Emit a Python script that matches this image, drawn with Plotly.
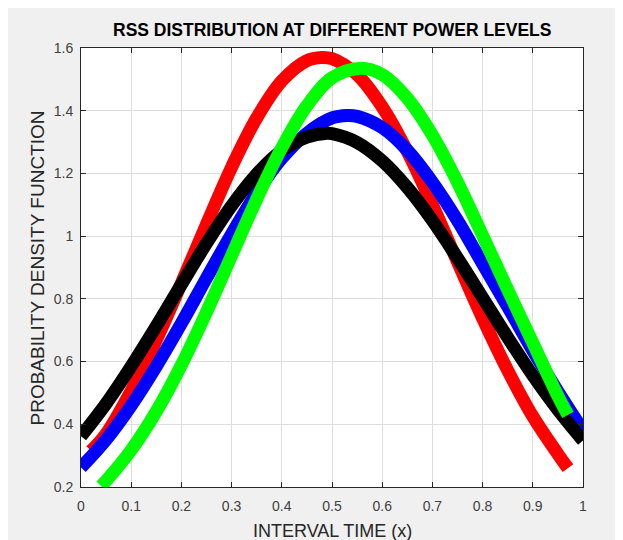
import plotly.graph_objects as go

# ---- data ----
red_x = [0.02, 0.05, 0.10, 0.15, 0.20, 0.25, 0.30, 0.35, 0.40, 0.45, 0.48, 0.50, 0.55, 0.60, 0.65, 0.70, 0.75, 0.80, 0.85, 0.90, 0.95, 0.97]
red_y = [0.315, 0.370, 0.507, 0.669, 0.850, 1.038, 1.220, 1.377, 1.495, 1.560, 1.570, 1.566, 1.515, 1.412, 1.270, 1.100, 0.918, 0.738, 0.572, 0.425, 0.305, 0.260]

green_x = [0.04, 0.05, 0.10, 0.15, 0.20, 0.25, 0.30, 0.35, 0.40, 0.45, 0.50, 0.555, 0.60, 0.65, 0.70, 0.75, 0.80, 0.85, 0.90, 0.95, 0.97]
green_y = [0.203, 0.220, 0.318, 0.441, 0.589, 0.758, 0.938, 1.118, 1.282, 1.416, 1.505, 1.535, 1.515, 1.440, 1.322, 1.172, 1.002, 0.829, 0.660, 0.490, 0.430]

blue_x = [0.00, 0.05, 0.10, 0.15, 0.20, 0.25, 0.30, 0.35, 0.40, 0.45, 0.50, 0.53, 0.55, 0.60, 0.65, 0.70, 0.75, 0.80, 0.85, 0.90, 0.95, 1.00]
blue_y = [0.262, 0.351, 0.460, 0.585, 0.722, 0.866, 1.007, 1.138, 1.248, 1.328, 1.377, 1.385, 1.382, 1.346, 1.274, 1.172, 1.050, 0.912, 0.775, 0.635, 0.505, 0.380]

black_x = [0.00, 0.05, 0.10, 0.15, 0.20, 0.25, 0.30, 0.35, 0.40, 0.45, 0.49, 0.50, 0.55, 0.60, 0.65, 0.70, 0.75, 0.80, 0.85, 0.90, 0.95, 1.00]
black_y = [0.362, 0.466, 0.585, 0.713, 0.846, 0.977, 1.097, 1.198, 1.273, 1.316, 1.328, 1.327, 1.299, 1.240, 1.155, 1.050, 0.930, 0.804, 0.677, 0.556, 0.446, 0.348]

x_ticks = [0, 0.1, 0.2, 0.3, 0.4, 0.5, 0.6, 0.7, 0.8, 0.9, 1]
y_ticks = [0.2, 0.4, 0.6, 0.8, 1.0, 1.2, 1.4, 1.6]

series = [
    (red_x, red_y, "#ff0000"),
    (blue_x, blue_y, "#0000ff"),
    (black_x, black_y, "#000000"),
    (green_x, green_y, "#00ff00"),
]

FONT = "Liberation Sans, Arial, Helvetica, sans-serif"

fig = go.Figure()
for xs, ys, col in series:
    fig.add_trace(go.Scatter(
        x=xs, y=ys, mode="lines",
        line=dict(color=col, width=13, shape="spline", smoothing=1.0),
        showlegend=False, hoverinfo="skip",
    ))

axis_common = dict(
    showgrid=True, gridcolor="#dedede", gridwidth=1,
    showline=True, linecolor="#262626", linewidth=1, mirror="ticks",
    ticks="inside", ticklen=5, tickcolor="#262626",
    tickfont=dict(family=FONT, size=14, color="#404040"),
    zeroline=False,
)

fig.update_xaxes(range=[0, 1], tickvals=x_ticks, ticklabelstandoff=6, **axis_common)
fig.update_yaxes(range=[0.2, 1.6], tickvals=y_ticks, ticklabelstandoff=4, **axis_common)

fig.update_layout(
    width=615, height=532,
    margin=dict(l=73, r=40, t=40, b=53),
    paper_bgcolor="#f0f0f0",
    plot_bgcolor="#ffffff",
    annotations=[
        dict(text="<b>RSS DISTRIBUTION AT DIFFERENT POWER LEVELS</b>", xref="paper", yref="paper",
             x=0.5, y=1.041, xanchor="center", yanchor="middle", showarrow=False,
             font=dict(family=FONT, size=17.5, color="#000000")),
        dict(text="INTERVAL TIME (x)", xref="paper", yref="paper",
             x=0.5, y=-0.1002, xanchor="center", yanchor="middle", showarrow=False,
             font=dict(family=FONT, size=18, color="#262626")),
        dict(text="PROBABILITY DENSITY FUNCTION", xref="paper", yref="paper",
             x=-0.0857, y=0.5, xanchor="center", yanchor="middle", showarrow=False,
             textangle=-90, font=dict(family=FONT, size=19, color="#262626")),
    ],
)

fig.write_html("out.html")
